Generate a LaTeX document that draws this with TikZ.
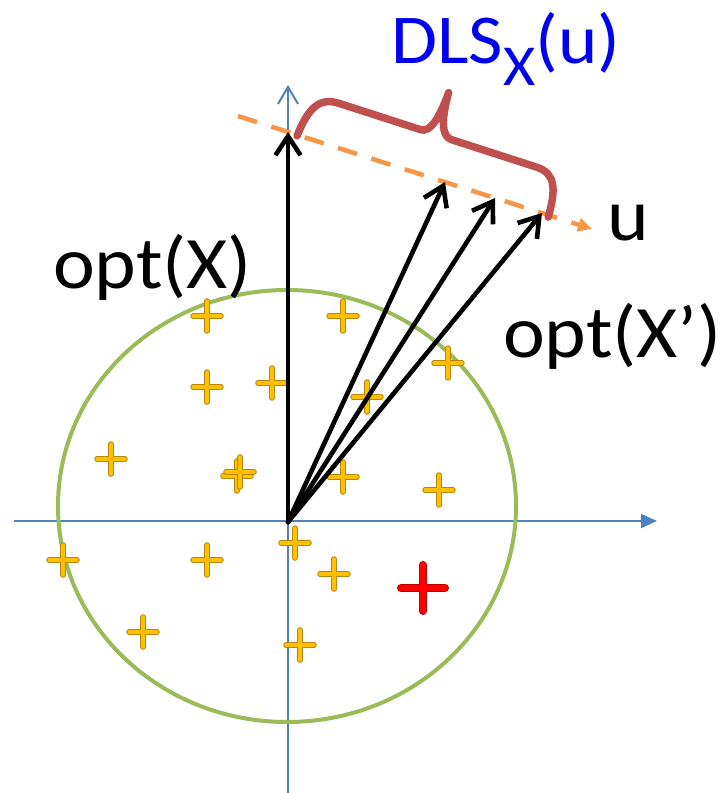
\documentclass[tikz,border=0pt]{standalone}
\usepackage{fontspec}
\setmainfont{Carlito}
\usetikzlibrary{arrows.meta}

\definecolor{axisblue}{HTML}{4F81BD}
\definecolor{ellgreen}{HTML}{9BBB59}
\definecolor{dashorange}{HTML}{F79646}
\definecolor{bracered}{HTML}{C0504D}
\definecolor{ptyellow}{HTML}{FFC000}
\definecolor{ptrim}{HTML}{B8860B}
\definecolor{ptred}{HTML}{FF0000}
\definecolor{ptredrim}{HTML}{C00000}
\definecolor{labelblue}{HTML}{0000F0}

\newcommand{\wide}[1]{\scalebox{1.07}[1]{#1}}

\begin{document}
\begin{tikzpicture}[x=1pt, y=-1pt,
	axis/.style={axisblue, line width=2pt},
	vec/.style={line width=4.6pt, line cap=round, line join=round, -{Straight Barb[length=19pt, width=25pt, line width=4.6pt]}},
	lbl/.style={font=\fontsize{74}{80}\selectfont, inner sep=0pt, anchor=base west},
	pics/ptplus/.style={code={
		\draw[ptrim, line width=5.5pt, line cap=round] (-14,0) -- (14,0) (0,-15) -- (0,15);
		\draw[ptyellow, line width=3.5pt, line cap=round] (-14,0) -- (14,0) (0,-15) -- (0,15);}},
	pics/redplus/.style={code={
		\draw[ptredrim, line width=8pt, line cap=round] (-22,0) -- (22,0) (0,-23) -- (0,23);
		\draw[ptred, line width=6pt, line cap=round] (-22,0) -- (22,0) (0,-23) -- (0,23);}}]
	\useasboundingbox (0,0) rectangle (722,793);
	\coordinate (O) at (288,522);
	\coordinate (xL) at (14,521);
	\coordinate (xR) at (657,521);
	\coordinate (yB) at (288,793);
	\coordinate (yT) at (288,85);
	\coordinate (uS) at (238,116);
	\coordinate (uE) at (592,229);
	\coordinate (t0) at (288,132);
	\coordinate (t1) at (445,182);
	\coordinate (t2) at (495,198);
	\coordinate (t3) at (542,213);
	\coordinate (b0) at (297,136);
	\draw[axis, -{Triangle[length=16pt, width=14pt]}] (xL) -- (xR);
	\draw[axis, -{Straight Barb[length=17pt, width=20pt, line width=2pt]}] (yB) -- (yT);
	\draw[ellgreen, line width=4pt] (287,506) ellipse [x radius=229pt, y radius=216pt];
	\foreach \px/\py in {207/316, 343/316, 448/363, 272/383, 207/387, 367/397, 111/459, 237/476, 240/472, 343/477, 439/490, 295/543, 63/560, 207/560, 334/574, 143/632, 300/645}
		\pic at (\px,\py) {ptplus};
	\pic at (423,588) {redplus};
	\draw[dashorange, line width=4.5pt, dash pattern=on 20pt off 15pt, -{Triangle[length=14pt, width=13pt]}] (uS) -- (uE);
	\foreach \t in {t0,t1,t2,t3}
		\draw[vec] (O) -- (\t);
	\begin{scope}[shift={(b0)}, x=1pt, y=1pt, rotate=-17.9]
		\draw[bracered, line width=7.5pt, line cap=round, line join=round] (0,0) .. controls (2,28) and (8,44) .. (30,44) -- (116,44) .. controls (126,44) and (130,62) .. (131,88) .. controls (132,62) and (137,44) .. (148,44) -- (238,44) .. controls (258,44) and (263,28) .. (264,0);
	\end{scope}
	\node[lbl] (optX) at (53,288) {\wide{opt(X)}};
	\node[lbl] (optXp) at (503,357) {\wide{opt(X’)}};
	\node[lbl] (ulbl) at (607,240) {\wide{u}};
	\node[lbl, labelblue, font=\fontsize{70}{80}\selectfont] (dls) at (391,63) {\wide{DLS\raisebox{-22pt}{\fontsize{58}{60}\selectfont X}(u)}};
\end{tikzpicture}
\end{document}
